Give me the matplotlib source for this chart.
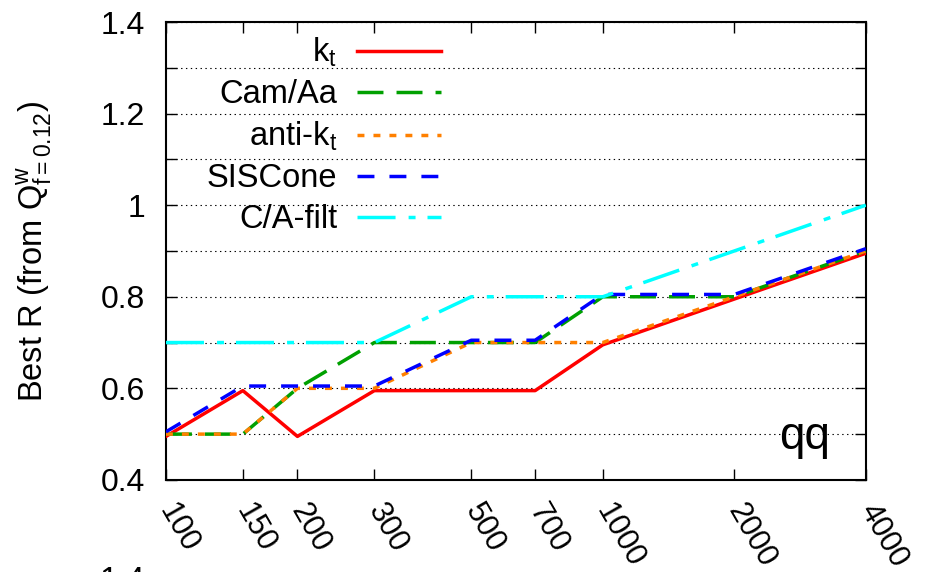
#
# imports
import matplotlib
matplotlib.use("Agg")
import matplotlib.pyplot as plt
from matplotlib.patches import Rectangle
from matplotlib.ticker import MultipleLocator, NullLocator, FixedLocator
#
# Best R vs hard scale, qq panel
#
plt.rcParams['font.family'] = ['Liberation Sans', 'DejaVu Sans']
plt.rcParams['mathtext.fontset'] = 'custom'
plt.rcParams['mathtext.rm'] = 'Liberation Sans'
plt.rcParams['mathtext.it'] = 'Liberation Sans'
plt.rcParams['lines.scale_dashes'] = False
#
# Data
scale = [100, 150, 200, 300, 500, 700, 1000, 2000, 4000]
scale_labels = ['100', '150', '200', '300', '500', '700', '1000', '2000', '4000']
R_kt = [0.495, 0.595, 0.495, 0.595, 0.595, 0.595, 0.695, 0.795, 0.895]
R_cam = [0.5, 0.5, 0.6, 0.7, 0.7, 0.7, 0.8, 0.8, 0.9]
R_antikt = [0.5, 0.5, 0.6, 0.6, 0.7, 0.7, 0.7, 0.8, 0.9]
R_sis = [0.505, 0.605, 0.605, 0.605, 0.705, 0.705, 0.805, 0.805, 0.905]
R_cafilt = [0.7, 0.7, 0.7, 0.7, 0.8, 0.8, 0.8, 0.9, 1.0]
#
fs = 23.5
fig = plt.figure(figsize=(9.27, 5.72), dpi=100)
ax = fig.add_axes([0.179, 0.161, 0.755, 0.8005])
#
lw = 2.5
ax.plot(scale, R_kt, color='#ff0000', lw=lw, ls='-', label=r'k$_\mathregular{t}$', zorder=3)
ax.plot(scale, R_cam, color='#00a000', lw=lw, ls=(0, (18.7, 9.4)), label='Cam/Aa', zorder=3)
ax.plot(scale, R_antikt, color='#ff8000', lw=lw, ls=(0, (5, 6.5)), label=r'anti-k$_\mathregular{t}$', zorder=3)
ax.plot(scale, R_sis, color='#0000ff', lw=lw, ls=(0, (12.2, 10.8)), label='SISCone', zorder=3)
ax.plot(scale, R_cafilt, color='#00ffff', lw=lw, ls=(0, (27.4, 9.4, 5, 8.6)), label='C/A-filt', zorder=3)
#
ax.set_xscale('log')
ax.set_xlim(100, 4000)
ax.set_ylim(0.4, 1.4)
ax.xaxis.set_major_locator(FixedLocator(scale))
ax.xaxis.set_minor_locator(NullLocator())
ax.set_xticklabels(scale_labels, rotation=-60, ha='left', va='center', rotation_mode='anchor', fontsize=22)
ax.yaxis.set_major_locator(MultipleLocator(0.2))
ax.yaxis.set_minor_locator(MultipleLocator(0.1))
ax.set_yticks([0.4, 0.6, 0.8, 1.0, 1.2, 1.4])
ax.set_yticklabels(['0.4', '0.6', '0.8', '1', '1.2', '1.4'], fontsize=23)
ax.tick_params(axis='both', which='both', direction='in', top=True, right=True, length=8, width=1)
ax.tick_params(axis='x', pad=19)
ax.tick_params(axis='y', pad=15)
ax.grid(True, axis='y', which='both', color='black', ls=(0, (1, 2.5)), lw=0.8)
for s in ax.spines.values():
    s.set_linewidth(1.5)
#
# white box behind the key hides the grid
ax.add_patch(Rectangle((0.024, 0.535), 0.382, 0.45, transform=ax.transAxes,
                       facecolor='white', edgecolor='none', zorder=1))
leg = ax.legend(loc='upper right', bbox_to_anchor=(0.417, 1.005), frameon=False, markerfirst=False,
                fontsize=fs, handlelength=2.6, handletextpad=0.6, labelspacing=0.3, borderpad=0.0)
#
ax.set_ylabel(r'Best R (from $\mathregular{Q^{w}_{f=0.12}}$)', fontsize=fs)
ax.yaxis.set_label_coords(-0.16, 0.5)
ax.text(0.949, 0.068, 'qq', transform=ax.transAxes, ha='right', va='baseline', fontsize=33)
#
# top of the next panel's label, cut by the page edge
fig.text(145/927, 1-566/572, '1.4', ha='right', va='top', fontsize=fs)
#
plt.savefig('out.png', dpi=100)
